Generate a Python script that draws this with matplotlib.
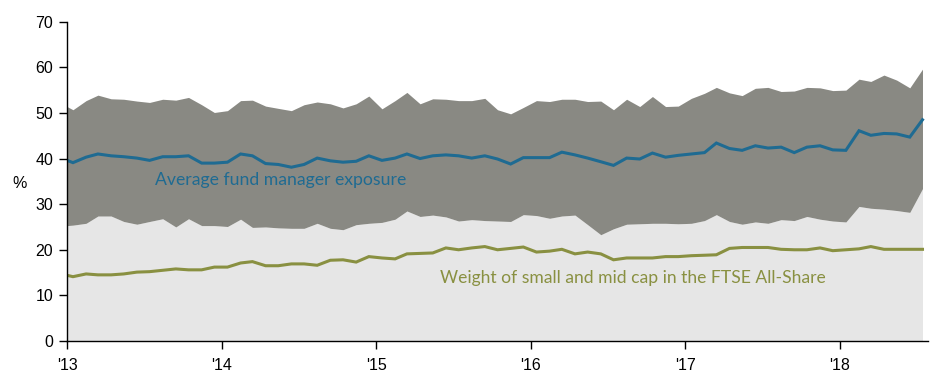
import matplotlib
matplotlib.use("Agg")
import matplotlib.pyplot as plt
import matplotlib.dates as mdates
import pandas as pd
import numpy as np

# x positions: start of axis, then mid-month observations Jan 2013 .. Jul 2018
dates = [pd.Timestamp("2013-01-01")] + list(
    pd.date_range(start="2013-01-01", periods=67, freq="MS") + pd.Timedelta(days=14))

upper = [51.4, 50.7, 52.7, 53.9, 53.1, 53.0, 52.6, 52.3, 53.0, 52.8, 53.4, 51.8, 50.1,
         50.5, 52.7, 52.8, 51.5, 51.0, 50.5, 51.8, 52.4, 52.0, 51.1, 52.0, 53.7,
         50.9, 52.7, 54.5, 52.0, 53.1, 53.0, 52.7, 52.7, 53.2, 50.7, 49.8, 51.2,
         52.7, 52.5, 53.0, 53.0, 52.5, 52.6, 50.7, 53.0, 51.4, 53.6, 51.4, 51.5,
         53.2, 54.3, 55.6, 54.4, 53.8, 55.4, 55.6, 54.7, 54.8, 55.6, 55.5, 54.9,
         55.0, 57.4, 56.9, 58.3, 57.2, 55.5, 59.6]

lower = [25.3, 25.4, 25.8, 27.4, 27.4, 26.2, 25.6, 26.2, 26.8, 25.0, 26.8, 25.3, 25.3,
         25.1, 26.7, 24.9, 25.0, 24.8, 24.7, 24.7, 25.8, 24.7, 24.4, 25.5, 25.8,
         26.0, 26.7, 28.5, 27.3, 27.6, 27.2, 26.3, 26.6, 26.4, 26.3, 26.2, 27.7,
         27.5, 26.9, 27.4, 27.6, 25.5, 23.3, 24.6, 25.6, 25.7, 25.8, 25.8, 25.7,
         25.8, 26.4, 27.7, 26.2, 25.6, 26.1, 25.8, 26.6, 26.4, 27.3, 26.7, 26.3,
         26.1, 29.5, 29.1, 28.9, 28.6, 28.2, 33.4]

average = [39.6, 39.1, 40.3, 41.0, 40.6, 40.4, 40.1, 39.6, 40.4, 40.4, 40.6, 39.0, 39.0,
           39.2, 41.0, 40.6, 38.9, 38.7, 38.1, 38.7, 40.1, 39.5, 39.2, 39.4, 40.6,
           39.6, 40.1, 41.0, 40.0, 40.6, 40.8, 40.6, 40.1, 40.6, 39.9, 38.8, 40.2,
           40.2, 40.2, 41.4, 40.8, 40.1, 39.3, 38.5, 40.1, 39.9, 41.2, 40.3, 40.7,
           41.0, 41.3, 43.4, 42.2, 41.8, 42.8, 42.3, 42.5, 41.3, 42.5, 42.8, 41.9,
           41.8, 46.1, 45.1, 45.5, 45.4, 44.7, 48.5]

weight = [14.4, 14.1, 14.7, 14.5, 14.5, 14.7, 15.1, 15.2, 15.5, 15.8, 15.6, 15.6, 16.2,
          16.2, 17.1, 17.4, 16.5, 16.5, 16.9, 16.9, 16.6, 17.7, 17.8, 17.3, 18.5,
          18.2, 18.0, 19.1, 19.2, 19.3, 20.4, 20.0, 20.4, 20.7, 20.0, 20.3, 20.6,
          19.5, 19.7, 20.1, 19.1, 19.5, 19.1, 17.8, 18.2, 18.2, 18.2, 18.5, 18.5,
          18.7, 18.8, 18.9, 20.3, 20.5, 20.5, 20.5, 20.1, 20.0, 20.0, 20.4, 19.8,
          20.0, 20.2, 20.7, 20.1, 20.1, 20.1, 20.1]

label_avg = "Average fund manager exposure"
label_wt = "Weight of small and mid cap in the FTSE All-Share"
y_ticks = [0, 10, 20, 30, 40, 50, 60, 70]

BLUE = "#1F6B92"
OLIVE = "#899041"
DARK = "#898983"
LIGHT = "#E6E6E6"

plt.rcParams["font.family"] = ["Liberation Sans Narrow", "Liberation Sans", "DejaVu Sans"]

fig = plt.figure(figsize=(9.35, 3.75), dpi=100)
ax = fig.add_axes([0.0717, 0.0907, 0.9208, 0.8514])

ax.fill_between(dates, 0, lower, color=LIGHT, linewidth=0)
ax.fill_between(dates, lower, upper, color=DARK, linewidth=0)
ax.plot(dates, average, color=BLUE, linewidth=2.2, solid_joinstyle="miter")
ax.plot(dates, weight, color=OLIVE, linewidth=2.2, solid_joinstyle="miter")

ax.set_ylim(0, 70)
ax.set_yticks(y_ticks)
ax.set_xlim(pd.Timestamp("2013-01-01"), pd.Timestamp("2018-07-28"))
ax.xaxis.set_major_locator(mdates.YearLocator())
ax.xaxis.set_major_formatter(mdates.DateFormatter("'%y"))

for s in ["top", "right"]:
    ax.spines[s].set_visible(False)
for s in ["left", "bottom"]:
    ax.spines[s].set_linewidth(1.0)
    ax.spines[s].set_color("black")
ax.tick_params(axis="y", direction="out", length=6, width=1.0, labelsize=11.5, pad=4)
ax.tick_params(axis="x", direction="out", length=6, width=1.0, labelsize=11.5, pad=6)

fig.text(20 / 935, 1 - 183 / 375, "%", fontsize=11.5, ha="center", va="center")

ax.text(pd.Timestamp("2013-07-28"), 35.3, label_avg, color=BLUE, fontsize=12.7,
        family=["Lato", "DejaVu Sans"], ha="left", va="center")
ax.text(pd.Timestamp("2015-05-31"), 13.9, label_wt, color=OLIVE, fontsize=12.6,
        family=["Lato", "DejaVu Sans"], ha="left", va="center")

fig.savefig("out.png", dpi=100)
